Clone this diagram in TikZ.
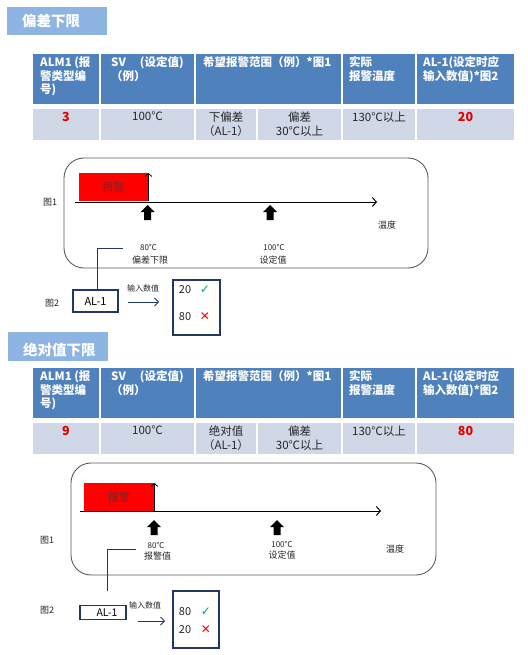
\documentclass[tikz,border=0pt]{standalone}
\usepackage{fontspec}
\setmainfont{Noto Sans CJK SC}
\newfontfamily\symfont{DejaVu Sans}
\usetikzlibrary{arrows.meta}
\definecolor{titleblue}{HTML}{8EB4E3}
\definecolor{hdrblue}{HTML}{4F81BD}
\definecolor{rowblue}{HTML}{D0D8E8}
\definecolor{navy}{HTML}{1F3864}
\definecolor{numred}{HTML}{E00000}
\definecolor{alarmred}{HTML}{FF0000}
\definecolor{alarmtext}{HTML}{6E2A2A}
\definecolor{framegray}{HTML}{5A5A5A}
\definecolor{okgreen}{HTML}{00B050}
\tikzset{
  titlebar/.style={fill=titleblue, anchor=north west, inner sep=0, outer sep=0},
  titletext/.style={anchor=west, text=white, font=\bfseries\fontsize{14.5}{16}\selectfont, inner sep=0},
  hdrcell/.style={fill=hdrblue, draw=white, line width=1.5pt, anchor=north west, inner sep=0, outer sep=0},
  rowcell/.style={fill=rowblue, draw=white, line width=1.5pt, anchor=north west, inner sep=0, outer sep=0},
  hdrtext/.style={anchor=north west, text=white, font=\bfseries\fontsize{11.5}{13.5}\selectfont, align=left, inner sep=0},
  celltext/.style={anchor=north, text=black!85, font=\fontsize{11.5}{13.5}\selectfont, align=center, inner sep=0},
  rednum/.style={anchor=north, text=numred, font=\bfseries\fontsize{12.5}{14}\selectfont, inner sep=0},
  frame/.style={draw=framegray, line width=0.9pt, rounded corners=20pt, inner sep=0},
  alarmbox/.style={fill=alarmred, anchor=north west, inner sep=0, text=alarmtext, font=\fontsize{11}{13}\selectfont},
  axisline/.style={line width=1pt, -{Straight Barb[length=4pt,width=9pt]}},
  thinup/.style={line width=0.8pt, -{Straight Barb[length=3pt,width=7pt]}},
  lbl/.style={inner sep=0, font=\fontsize{9}{11}\selectfont, text=black!85},
  smalllbl/.style={inner sep=0, font=\fontsize{8}{10}\selectfont, text=black!85},
  navybox/.style={draw=navy, line width=1.6pt, inner sep=0, fill=white},
  navyline/.style={draw=navy, line width=1pt},
  navyarrow/.style={draw=navy, line width=1pt, -{Straight Barb[length=4pt,width=8pt]}},
  valtext/.style={inner sep=0, font=\fontsize{11}{13}\selectfont, text=black!85},
  okmark/.style={inner sep=0, text=okgreen, font=\symfont\fontsize{12}{14}\selectfont},
  ngmark/.style={inner sep=0, text=alarmred, font=\symfont\fontsize{12}{14}\selectfont},
  blockup/.pic={\fill[black] (0,0) -- (7,7) -- (3.5,7) -- (3.5,15) -- (-3.5,15) -- (-3.5,7) -- (-7,7) -- cycle;}
}
\newcommand\mytable[5]{%
  \node[hdrcell, minimum width=68, minimum height=52] (#1h1) at (32,#2) {};
  \node[hdrcell, minimum width=95, minimum height=52] (#1h2) at (100,#2) {};
  \node[hdrcell, minimum width=147, minimum height=52] (#1h3) at (195,#2) {};
  \node[hdrcell, minimum width=74, minimum height=52] (#1h4) at (342,#2) {};
  \node[hdrcell, minimum width=99, minimum height=52] (#1h5) at (416,#2) {};
  \node[rowcell, minimum width=68, minimum height=33] (#1r1) at (32,#2+55) {};
  \node[rowcell, minimum width=95, minimum height=33] (#1r2) at (100,#2+55) {};
  \node[rowcell, minimum width=62, minimum height=33] (#1r3) at (195,#2+55) {};
  \node[rowcell, minimum width=85, minimum height=33] (#1r3b) at (257,#2+55) {};
  \node[rowcell, minimum width=74, minimum height=33] (#1r4) at (342,#2+55) {};
  \node[rowcell, minimum width=99, minimum height=33] (#1r5) at (416,#2+55) {};
  \node[hdrtext] (#1t1) at (40,#2+3.5) {ALM1 (报\\警类型编\\号)};
  \node[hdrtext] (#1t2) at (111,#2+3.5) {SV\hspace{14pt}(设定值)\\（例）};
  \node[hdrtext] (#1t3) at (203,#2+3.5) {希望报警范围（例）*图1};
  \node[hdrtext] (#1t4) at (349,#2+3.5) {实际\\报警温度};
  \node[hdrtext] (#1t5) at (423,#2+3.5) {AL-1(设定时应\\输入数值)*图2};
  \node[rednum] (#1v1) at (66,#2+59) {#3};
  \node[celltext] (#1v2) at (147.5,#2+59) {100℃};
  \node[celltext] (#1v3) at (226,#2+59) {#4\\（AL-1）};
  \node[celltext] (#1v3b) at (299.5,#2+59) {偏差\\30℃以上};
  \node[celltext] (#1v4) at (379,#2+59) {130℃以上};
  \node[rednum] (#1v5) at (465.5,#2+59) {#5};
}
\begin{document}
\begin{tikzpicture}[x=1pt,y=-1pt]
\useasboundingbox (0,0) rectangle (527,655);
\fill[white] (0,0) rectangle (527,655);

% ---------- section 1 ----------
\node[titlebar, minimum width=100, minimum height=28] (bar1) at (7,7) {};
\node[titletext] (title1) at (22,21.5) {偏差下限};
\mytable{a}{53}{3}{下偏差}{20}

\node[frame, minimum width=364, minimum height=110] (frame1) at (246,213) {};
\node[alarmbox, minimum width=69, minimum height=28] (alarm1) at (79,173) {报警};
\coordinate (ax1s) at (75,202);
\coordinate (ax1e) at (377,202);
\draw[axisline] (ax1s) -- (ax1e);
\draw[thinup] (alarm1.south east) -- (alarm1.north east);
\pic at (147.5,205) {blockup};
\pic at (270,205) {blockup};
\node[lbl] (fig1a) at (50,202) {图1};
\node[smalllbl] (lo1) at (148.5,247) {80℃};
\node[lbl] (lo1b) at (150,260) {偏差下限};
\node[smalllbl] (sv1) at (274,247) {100℃};
\node[lbl] (sv1b) at (273,260) {设定值};
\node[lbl] (temp1) at (387,225) {温度};
\node[lbl] (fig2a) at (52,303) {图2};
\node[navybox, minimum width=45, minimum height=22, font=\fontsize{11}{13}\selectfont] (al1) at (95.5,301) {AL-1};
\coordinate (c1) at (123,248);
\draw[navyline] ([xshift=1.5pt]al1.north) |- (c1);
\node[navybox, minimum width=47, minimum height=55] (res1) at (196.5,307.5) {};
\draw[navyarrow, shorten <=9pt, shorten >=13pt] (al1.east |- 0,302) -- (res1.west |- 0,302);
\node[smalllbl] (in1) at (143,288) {输入数值};
\node[valtext] (v1a) at (185,290) {20};
\node[okmark] (ok1) at (205,289.5) {✓};
\node[valtext] (v1b) at (185,317) {80};
\node[ngmark] (ng1) at (205,316.5) {✕};

% ---------- section 2 ----------
\node[titlebar, minimum width=100, minimum height=29] (bar2) at (8,332) {};
\node[titletext] (title2) at (23,350) {绝对值下限};
\mytable{b}{367}{9}{绝对值}{80}

\node[frame, minimum width=365, minimum height=112] (frame2) at (253.5,519) {};
\node[alarmbox, minimum width=70, minimum height=28] (alarm2) at (84,483) {报警};
\coordinate (ax2s) at (80,511);
\coordinate (ax2e) at (381,511);
\draw[axisline] (ax2s) -- (ax2e);
\draw[thinup] (alarm2.south east) -- (alarm2.north east);
\pic at (154,520) {blockup};
\pic at (277,520) {blockup};
\node[lbl] (fig1b) at (47,540) {图1};
\node[smalllbl] (lo2) at (156,545) {80℃};
\node[lbl] (lo2b) at (157.5,556) {报警值};
\node[smalllbl] (sv2) at (282,544) {100℃};
\node[lbl] (sv2b) at (282,555.5) {设定值};
\node[lbl] (temp2) at (395,549) {温度};
\node[lbl] (fig2b) at (47,610) {图2};
\node[navybox, minimum width=46, minimum height=14, font=\fontsize{10.5}{12}\selectfont] (al2) at (103,612.5) {\hspace{8pt}AL-1};
\coordinate (c2) at (136,549);
\draw[navyline, shorten <=14pt] ([xshift=4pt]al2.north) |- (c2);
\node[navybox, minimum width=46, minimum height=57] (res2) at (196,619.5) {};
\draw[navyarrow, shorten <=11pt, shorten >=7pt] (al2.east |- 0,621) -- (res2.west |- 0,621);
\node[smalllbl] (in2) at (145,605) {输入数值};
\node[valtext] (v2a) at (185,612) {80};
\node[okmark] (ok2) at (206,612) {✓};
\node[valtext] (v2b) at (185,630) {20};
\node[ngmark] (ng2) at (206,630) {✕};
\end{tikzpicture}
\end{document}
